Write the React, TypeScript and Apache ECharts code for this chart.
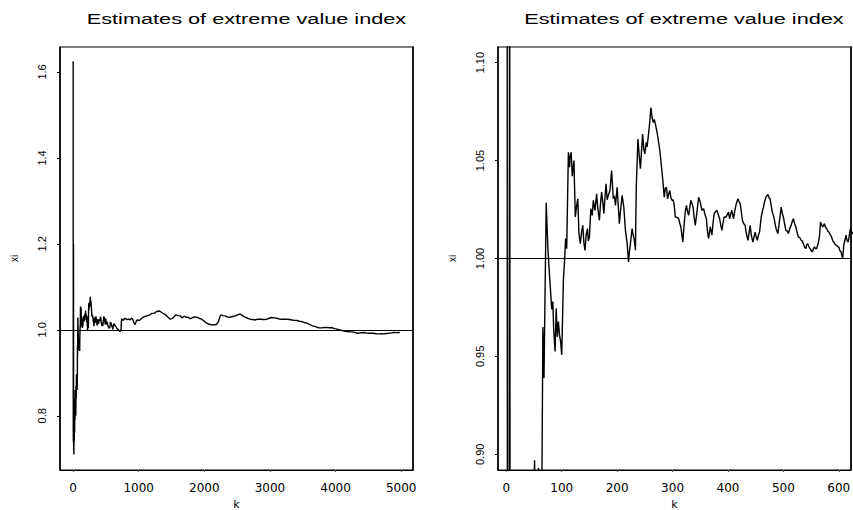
import React, { useEffect, useRef } from "react";
import * as echarts from "echarts";

// Hill-type estimates of the extreme value index, xi(k), for k = 1 .. ~5000.
// Start of the path: wild swings for very small k.
const hillHead: [number, number][] = [
  [1, 1.625], [2, 0.78], [3, 0.74], [4, 0.8], [5, 0.86], [6, 1.2], [7, 0.76], [8, 0.72],
  [10, 0.73], [12, 0.71], [14, 0.78], [17, 0.74], [20, 0.82], [23, 0.76], [26, 0.84],
  [29, 0.79], [32, 0.86], [35, 0.81], [38, 0.85], [41, 0.8], [44, 0.87], [47, 0.84],
  [51, 0.897], [53, 0.86], [56, 0.88], [58, 0.893], [61, 0.86], [64, 0.875], [66, 0.965],
  [68, 0.939], [72, 1.0285], [75, 1.005], [79, 0.987], [82, 0.974], [84, 0.978],
  [85.5, 0.9635], [88, 0.9525], [90, 0.9746], [92, 0.96], [94, 0.9678], [96, 0.961],
  [98, 0.9576], [100, 0.9508], [103, 0.989], [105, 0.9983], [107, 1.0102], [109, 1.005],
];

// k = 110 .. 630: noisy plateau with the bump near k = 260.
const hillBody: [number, number][] = [
  [112, 1.0542], [114, 1.0466], [115, 1.052], [117, 1.0542], [119, 1.042], [122, 1.05],
  [124.5, 1.0212], [127, 1.027], [129, 1.0305], [131, 1.013], [133.5, 1.0076], [136, 1.014],
  [138, 1.0169], [140, 1.008], [142, 1.0042], [144, 1.012], [146.5, 1.0153], [148, 1.009],
  [150, 1.011], [152.5, 1.0254], [155, 1.022], [157, 1.0297], [160, 1.0246], [163, 1.033],
  [165, 1.026], [168, 1.0195], [170, 1.028], [172, 1.0339], [174, 1.029], [176, 1.0229],
  [178, 1.031], [180, 1.0381], [182, 1.03], [184, 1.0322], [187, 1.0347], [190, 1.0449],
  [193, 1.0305], [195, 1.032], [197, 1.0271], [200, 1.0364], [204, 1.0178], [206, 1.024],
  [209, 1.0322], [212, 1.0262], [215, 1.0144], [218, 1.008], [220.5, 0.9983], [222, 1.003],
  [224, 1.0076], [227, 1.0153], [229, 1.012], [231, 1.0093], [233, 1.0042], [234.5, 1.0364],
  [237.5, 1.061], [240, 1.052], [242, 1.0458], [244, 1.055], [246, 1.0636], [248, 1.056],
  [250, 1.0534], [252.5, 1.0593], [254, 1.057], [256, 1.0619], [258.5, 1.0687], [261, 1.0771],
  [263, 1.072], [265, 1.0695], [267, 1.071], [269, 1.0687], [272, 1.0644], [275, 1.059],
  [277, 1.0551], [280, 1.047], [283, 1.038], [285, 1.0313], [287, 1.036], [289, 1.0364],
  [291, 1.0305], [293, 1.033], [295, 1.0347], [297, 1.031], [299, 1.0297], [301, 1.03],
  [303, 1.0271], [305, 1.0212], [308, 1.021], [311, 1.0203], [313, 1.018], [315, 1.0161],
  [318.5, 1.0084], [321, 1.0178], [323, 1.024], [325, 1.0271], [327, 1.024], [329, 1.022],
  [331, 1.026], [333, 1.0297], [335, 1.028], [337, 1.0262], [339, 1.021], [341, 1.0169],
  [344, 1.0237], [347, 1.0313], [350, 1.0288], [353, 1.0246], [356, 1.0254], [358, 1.023],
  [361, 1.0203], [363, 1.014], [365, 1.0102], [368, 1.0161], [371, 1.0119], [373, 1.018],
  [375, 1.0229], [378, 1.024], [380, 1.0246], [383, 1.022], [385, 1.0203], [387, 1.017],
  [389, 1.0144], [391, 1.018], [393, 1.0212], [396, 1.021], [398, 1.022], [401, 1.0237],
  [403, 1.0203], [405, 1.0229], [407, 1.0246], [410, 1.0203], [413, 1.0254], [415, 1.028],
  [418, 1.0305], [420, 1.029], [422, 1.028], [424, 1.024], [426, 1.0195], [428, 1.018],
  [431, 1.0169], [433, 1.013], [436, 1.0093], [438, 1.013], [440, 1.0169], [442, 1.012],
  [445, 1.0084], [447, 1.011], [449, 1.0135], [451, 1.011], [453, 1.0093], [455, 1.012],
  [457, 1.0135], [460, 1.0212], [462, 1.024], [464, 1.0262], [466, 1.029], [468.5, 1.0313],
  [472, 1.0327], [474, 1.031], [476, 1.0305], [478, 1.027], [480, 1.0237], [483, 1.021],
  [485, 1.0178], [487, 1.015], [490, 1.0127], [493, 1.0195], [496, 1.0262], [498, 1.023],
  [500, 1.0212], [502, 1.018], [504.5, 1.0144], [507, 1.014], [509, 1.0127], [511, 1.015],
  [514, 1.0169], [516, 1.019], [518, 1.0203], [520, 1.018], [522.5, 1.0161], [525, 1.013],
  [527, 1.011], [530, 1.0105], [532, 1.0093], [534, 1.009], [536, 1.0076], [538, 1.006],
  [540.5, 1.0051], [542, 1.007], [544, 1.0076], [546, 1.006], [548, 1.0051], [550, 1.004],
  [552.5, 1.0034], [554, 1.005], [556, 1.0059], [558, 1.005], [560, 1.0051], [563, 1.008],
  [565, 1.011], [567, 1.0186], [569, 1.017], [571, 1.0161], [574, 1.0178], [576, 1.016],
  [578, 1.0153], [580, 1.014], [582, 1.0135], [585, 1.012], [587, 1.011], [589, 1.009],
  [591, 1.0084], [594, 1.007], [596, 1.0068], [598, 1.006], [600, 1.0059], [602, 1.004],
  [604, 1.0034], [606, 1.001], [607, 1.0], [609, 1.007], [611, 1.0093], [613, 1.0119],
  [615, 1.009], [617, 1.0084], [619, 1.012], [621, 1.0153], [624, 1.013], [628, 1.012],
];

// k = 650 .. 4980: slow drift towards 1.
const hillTail: [number, number][] = [
  [650, 1.008], [670, 1.003], [689, 1.0], [713, 0.996], [730, 1.0], [738, 1.026], [760, 1.022],
  [790, 1.027], [820, 1.024], [850, 1.025], [866, 1.023], [890, 1.027], [907, 1.025],
  [925, 1.018], [942, 1.012], [960, 1.019], [978, 1.023], [1010, 1.022], [1044, 1.027],
  [1080, 1.03], [1120, 1.0326], [1160, 1.034], [1197, 1.038], [1240, 1.039], [1273, 1.0426],
  [1313, 1.044], [1345, 1.041], [1374, 1.038], [1400, 1.036], [1425, 1.0326], [1450, 1.029],
  [1476, 1.0248], [1500, 1.026], [1517, 1.027], [1545, 1.032], [1568, 1.035], [1600, 1.033],
  [1629, 1.0326], [1660, 1.028], [1690, 1.031], [1705, 1.031], [1730, 1.029], [1756, 1.0295],
  [1780, 1.026], [1807, 1.027], [1840, 1.03], [1883, 1.0295], [1920, 1.027], [1959, 1.0248],
  [2000, 1.02], [2036, 1.0155], [2075, 1.013], [2112, 1.0116], [2150, 1.012], [2178, 1.0116],
  [2200, 1.016], [2214, 1.019], [2235, 1.03], [2250, 1.035], [2285, 1.033], [2316, 1.0326],
  [2350, 1.03], [2392, 1.0295], [2430, 1.031], [2468, 1.0326], [2510, 1.035], [2545, 1.037],
  [2580, 1.033], [2621, 1.0295], [2660, 1.027], [2697, 1.0248], [2735, 1.024], [2774, 1.023],
  [2810, 1.025], [2850, 1.0248], [2900, 1.024], [2952, 1.0248], [2990, 1.027], [3029, 1.0287],
  [3065, 1.028], [3105, 1.027], [3140, 1.025], [3181, 1.0248], [3220, 1.025], [3258, 1.0248],
  [3300, 1.024], [3334, 1.023], [3370, 1.022], [3410, 1.0217], [3450, 1.02], [3487, 1.019],
  [3525, 1.017], [3563, 1.0155], [3600, 1.013], [3639, 1.01], [3680, 1.008], [3716, 1.0062],
  [3750, 1.005], [3792, 1.0047], [3830, 1.0055], [3868, 1.0054], [3905, 1.005], [3945, 1.0054],
  [3985, 1.003], [4021, 1.0016], [4060, 1.0], [4097, 0.9984], [4135, 0.997], [4174, 0.996],
  [4210, 0.9955], [4250, 0.9953], [4290, 0.994], [4337, 0.9922], [4380, 0.993], [4429, 0.9938],
  [4465, 0.993], [4505, 0.9922], [4545, 0.9925], [4582, 0.9922], [4620, 0.991], [4658, 0.9907],
  [4700, 0.991], [4734, 0.9907], [4770, 0.9915], [4811, 0.9922], [4850, 0.993], [4887, 0.9938],
  [4930, 0.9935], [4979, 0.9938],
];

const hill = [...hillHead, ...hillBody, ...hillTail];

// Axis ticks of the two panels
const fullKTicks = [0, 1000, 2000, 3000, 4000, 5000];
const fullXiTicks = [0.8, 1.0, 1.2, 1.4, 1.6];
const zoomKTicks = [0, 100, 200, 300, 400, 500, 600];
const zoomXiTicks = [0.9, 0.95, 1.0, 1.05, 1.1];

const reference = 1;
const titleText = "Estimates of extreme value index";

const BLACK = "#000";

function xAxisFor(gridIndex: number, min: number, max: number, ticks: number[]) {
  return {
    type: "value",
    gridIndex,
    min,
    max,
    splitLine: { show: false },
    axisLine: { show: true, onZero: false, lineStyle: { color: BLACK, width: 1 } },
    axisTick: { show: true, customValues: ticks, length: 2, lineStyle: { color: "#555", width: 1 } },
    axisLabel: {
      customValues: ticks,
      color: BLACK,
      fontFamily: "DejaVu Sans",
      fontSize: 12,
      margin: 12,
      formatter: (v: number) => String(v),
    },
    name: "k",
    nameLocation: "middle",
    nameGap: 26,
    nameTextStyle: { color: BLACK, fontFamily: "DejaVu Sans", fontSize: 11 },
  };
}

function yAxisFor(gridIndex: number, min: number, max: number, ticks: number[], digits: number) {
  return {
    type: "value",
    gridIndex,
    min,
    max,
    position: "left",
    splitLine: { show: false },
    axisLine: { show: true, onZero: false, lineStyle: { color: BLACK, width: 1.6 } },
    axisTick: { show: true, customValues: ticks, length: 3, lineStyle: { color: BLACK, width: 1 } },
    axisLabel: {
      customValues: ticks,
      rotate: 90,
      color: BLACK,
      fontFamily: "Liberation Sans",
      fontSize: 11,
      margin: 13,
      formatter: (v: number) => v.toFixed(digits),
    },
    name: "xi",
    nameLocation: "middle",
    nameRotate: 90,
    nameGap: 41,
    nameTextStyle: { color: BLACK, fontFamily: "Liberation Sans", fontSize: 10 },
  };
}

// Plain right-hand frame edge, drawn as an empty axis
function rightEdge(gridIndex: number, min: number, max: number) {
  return {
    type: "value",
    gridIndex,
    min,
    max,
    position: "right",
    splitLine: { show: false },
    axisLine: { show: true, onZero: false, lineStyle: { color: BLACK, width: 1.6 } },
    axisTick: { show: false },
    axisLabel: { show: false },
  };
}

function hillSeries(xAxisIndex: number, yAxisIndex: number) {
  return {
    type: "line",
    xAxisIndex,
    yAxisIndex,
    data: hill,
    showSymbol: false,
    symbol: "none",
    clip: true,
    lineStyle: { color: BLACK, width: 1.4 },
    markLine: {
      silent: true,
      symbol: ["none", "none"],
      label: { show: false },
      lineStyle: { color: BLACK, type: "solid", width: 1 },
      data: [{ yAxis: reference }],
    },
  };
}

function titleGraphic(cx: number) {
  return {
    type: "text",
    x: cx,
    y: 19,
    scaleX: 1.4,
    style: {
      text: titleText,
      fill: BLACK,
      fontFamily: "Liberation Sans",
      fontSize: 15.5,
      align: "center",
      verticalAlign: "middle",
    },
  };
}

export default function App() {
  const ref = useRef<HTMLDivElement>(null);

  useEffect(() => {
    if (!ref.current) return;
    const chart = echarts.init(ref.current, null, { renderer: "svg" });
    const frame = {
      show: true,
      borderColor: BLACK,
      borderWidth: 1,
      containLabel: false,
      outerBoundsMode: "none",
    };
    chart.setOption({
      animation: false,
      backgroundColor: "#fff",
      grid: [
        { ...frame, left: 60, top: 47, width: 353, height: 423 },
        { ...frame, left: 498, top: 47, width: 353, height: 423 },
      ],
      xAxis: [
        xAxisFor(0, -200, 5180, fullKTicks),
        xAxisFor(1, -15, 622, zoomKTicks),
      ],
      yAxis: [
        yAxisFor(0, 0.674, 1.658, fullXiTicks, 1),
        rightEdge(0, 0.674, 1.658),
        yAxisFor(1, 0.892, 1.108, zoomXiTicks, 2),
        rightEdge(1, 0.892, 1.108),
      ],
      series: [hillSeries(0, 0), hillSeries(1, 2)],
      graphic: [titleGraphic(246.5), titleGraphic(684)],
    });
    return () => chart.dispose();
  }, []);

  return (
    <div
      ref={ref}
      style={{ position: "absolute", left: 0, top: 0, width: 853, height: 510, background: "#fff" }}
    />
  );
}
